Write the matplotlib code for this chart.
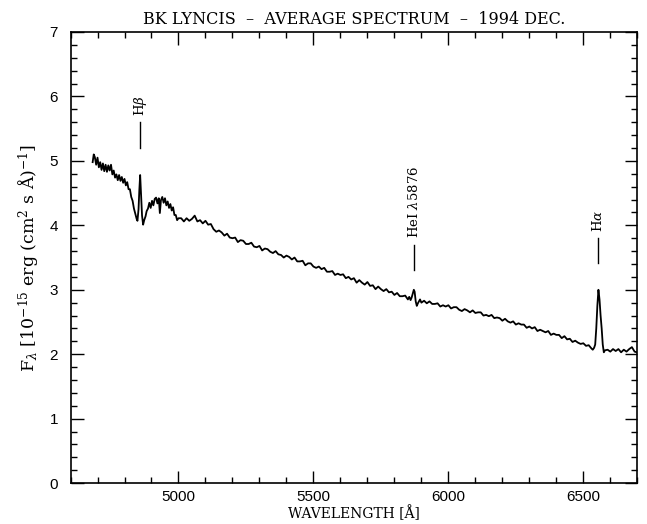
import matplotlib
matplotlib.use("Agg")
import matplotlib.pyplot as plt
from matplotlib.ticker import MultipleLocator

# ---- data ----
wave_blue = [4682, 4686, 4690, 4695, 4700, 4705, 4710, 4715, 4720, 4725,
             4730, 4735, 4740, 4745, 4750, 4755, 4760, 4765, 4770, 4775,
             4780, 4785, 4790, 4795, 4800, 4805, 4810, 4815, 4820, 4825,
             4830, 4835, 4840, 4845, 4848, 4852, 4855, 4858, 4861, 4865,
             4869, 4873, 4878, 4882, 4887, 4892, 4897, 4902, 4907, 4912,
             4917, 4922, 4927, 4931, 4935, 4940, 4945, 4950, 4955, 4960,
             4965, 4970, 4975, 4980, 4985, 4990, 4995, 5000]
flux_blue = [4.98, 5.10, 5.06, 4.94, 5.05, 4.90, 4.98, 4.86, 4.96, 4.84,
             4.94, 4.83, 4.93, 4.85, 4.94, 4.79, 4.85, 4.74, 4.79, 4.70,
             4.78, 4.69, 4.75, 4.66, 4.72, 4.62, 4.67, 4.56, 4.56, 4.44,
             4.38, 4.26, 4.18, 4.10, 4.07, 4.25, 4.55, 4.78, 4.50, 4.15,
             4.01, 4.08, 4.14, 4.22, 4.26, 4.35, 4.27, 4.38, 4.31, 4.41,
             4.43, 4.34, 4.42, 4.19, 4.39, 4.44, 4.35, 4.42, 4.31, 4.37,
             4.27, 4.33, 4.23, 4.28, 4.16, 4.16, 4.08, 4.11]

wave_mid = [5010, 5020, 5030, 5040, 5050, 5060, 5070, 5080, 5090, 5100,
            5110, 5120, 5130, 5140, 5150, 5160, 5170, 5180, 5190, 5200,
            5210, 5220, 5230, 5240, 5250, 5260, 5270, 5280, 5290, 5300,
            5310, 5320, 5330, 5340, 5350, 5360, 5370, 5380, 5390, 5400,
            5410, 5420, 5430, 5440, 5450, 5460, 5470, 5480, 5490, 5500,
            5510, 5520, 5530, 5540, 5550, 5560, 5570, 5580, 5590, 5600,
            5610, 5620, 5630, 5640, 5650, 5660, 5670, 5680, 5690, 5700,
            5710, 5720, 5730, 5740, 5750, 5760, 5770, 5780, 5790, 5800,
            5810, 5820, 5830, 5840, 5850]
flux_mid = [4.11, 4.06, 4.11, 4.07, 4.10, 4.15, 4.06, 4.08, 4.03, 4.07,
            4.01, 4.02, 3.94, 3.90, 3.92, 3.89, 3.84, 3.87, 3.81, 3.80,
            3.81, 3.74, 3.77, 3.76, 3.71, 3.71, 3.73, 3.67, 3.66, 3.68,
            3.61, 3.64, 3.63, 3.59, 3.57, 3.60, 3.55, 3.54, 3.50, 3.53,
            3.51, 3.47, 3.50, 3.44, 3.44, 3.45, 3.38, 3.41, 3.41, 3.36,
            3.34, 3.36, 3.32, 3.34, 3.28, 3.28, 3.29, 3.23, 3.25, 3.23,
            3.24, 3.18, 3.20, 3.16, 3.18, 3.11, 3.15, 3.11, 3.08, 3.12,
            3.06, 3.07, 3.01, 3.05, 3.01, 2.98, 3.01, 2.96, 2.97, 2.92,
            2.95, 2.90, 2.90, 2.91, 2.85]

wave_hei = [5855, 5860, 5864, 5868, 5872, 5875, 5879, 5883, 5887, 5891,
            5895, 5900]
flux_hei = [2.89, 2.84, 2.88, 2.94, 3.00, 2.97, 2.82, 2.75, 2.79, 2.82,
            2.85, 2.80]

wave_red = [5910, 5920, 5930, 5940, 5950, 5960, 5970, 5980, 5990, 6000,
            6010, 6020, 6030, 6040, 6050, 6060, 6070, 6080, 6090, 6100,
            6110, 6120, 6130, 6140, 6150, 6160, 6170, 6180, 6190, 6200,
            6210, 6220, 6230, 6240, 6250, 6260, 6270, 6280, 6290, 6300,
            6310, 6320, 6330, 6340, 6350, 6360, 6370, 6380, 6390, 6400,
            6410, 6420, 6430, 6440, 6450, 6460, 6470, 6480, 6490, 6500,
            6510, 6520, 6530, 6535, 6540]
flux_red = [2.83, 2.79, 2.82, 2.78, 2.78, 2.79, 2.74, 2.76, 2.74, 2.76,
            2.71, 2.73, 2.73, 2.69, 2.67, 2.70, 2.68, 2.65, 2.68, 2.64,
            2.65, 2.65, 2.60, 2.61, 2.59, 2.61, 2.56, 2.57, 2.56, 2.52,
            2.55, 2.51, 2.49, 2.51, 2.46, 2.48, 2.46, 2.46, 2.41, 2.43,
            2.40, 2.42, 2.36, 2.38, 2.36, 2.34, 2.36, 2.30, 2.32, 2.30,
            2.30, 2.25, 2.28, 2.23, 2.24, 2.19, 2.21, 2.18, 2.16, 2.17,
            2.13, 2.14, 2.09, 2.07, 2.10]

wave_ha = [6544, 6548, 6552, 6556, 6560, 6564, 6568, 6572, 6576, 6580]
flux_ha = [2.15, 2.40, 2.75, 3.00, 2.85, 2.60, 2.40, 2.15, 2.03, 2.06]

wave_end = [6590, 6600, 6610, 6620, 6630, 6640, 6650, 6660, 6670, 6680,
            6690, 6698]
flux_end = [2.07, 2.04, 2.08, 2.05, 2.08, 2.03, 2.07, 2.04, 2.08, 2.11,
            2.04, 2.03]

# line identifications: label, wavelength, marker bottom, marker top
line_labels = ["H$\\beta$", "HeI $\\lambda$5876", "H$\\alpha$"]
line_waves = [4858, 5871, 6556]
line_bottom = [5.20, 3.31, 3.42]
line_top = [5.60, 3.70, 3.80]

wave = wave_blue + wave_mid + wave_hei + wave_red + wave_ha + wave_end
flux = flux_blue + flux_mid + flux_hei + flux_red + flux_ha + flux_end

serif = ["DejaVu Serif"]
sans = ["Liberation Sans", "DejaVu Sans"]
plt.rcParams["mathtext.fontset"] = "dejavuserif"

fig = plt.figure(figsize=(6.47, 5.24), dpi=100)
ax = fig.add_axes([0.109, 0.078, 0.876, 0.861])

ax.plot(wave, flux, color="black", lw=1.3)

for lab, w, b, t in zip(line_labels, line_waves, line_bottom, line_top):
    ax.plot([w, w], [b, t], color="black", lw=1.0)
    ax.text(w, t + 0.1, lab, rotation=90, ha="center", va="bottom",
            family=serif, fontsize=9.5)

ax.set_xlim(4600, 6700)
ax.set_ylim(0, 7)
ax.xaxis.set_major_locator(MultipleLocator(500))
ax.xaxis.set_minor_locator(MultipleLocator(100))
ax.yaxis.set_major_locator(MultipleLocator(1))
ax.yaxis.set_minor_locator(MultipleLocator(0.2))
ax.tick_params(which="both", direction="in", top=True, right=True,
               width=1.0, labelsize=11)
ax.tick_params(which="major", length=9)
ax.tick_params(which="minor", length=4.5)
ax.tick_params(axis="y", pad=9)
ax.tick_params(axis="x", pad=5)
ax.set_xticks([5000, 5500, 6000, 6500])
for lbl in ax.get_xticklabels() + ax.get_yticklabels():
    lbl.set_family(sans)
for sp in ax.spines.values():
    sp.set_linewidth(1.2)

ax.set_title("BK LYNCIS  \u2013  AVERAGE SPECTRUM  \u2013  1994 DEC.",
             family=serif, fontsize=11.5, pad=6)
ax.set_xlabel("WAVELENGTH [\u00c5]", family=serif, fontsize=10, labelpad=1)
ax.set_ylabel("F$_\\lambda$ [10$^{-15}$ erg (cm$^2$ s \u00c5)$^{-1}$]",
              family=serif, fontsize=12.5, labelpad=6)

fig.savefig("out.png", dpi=100)
